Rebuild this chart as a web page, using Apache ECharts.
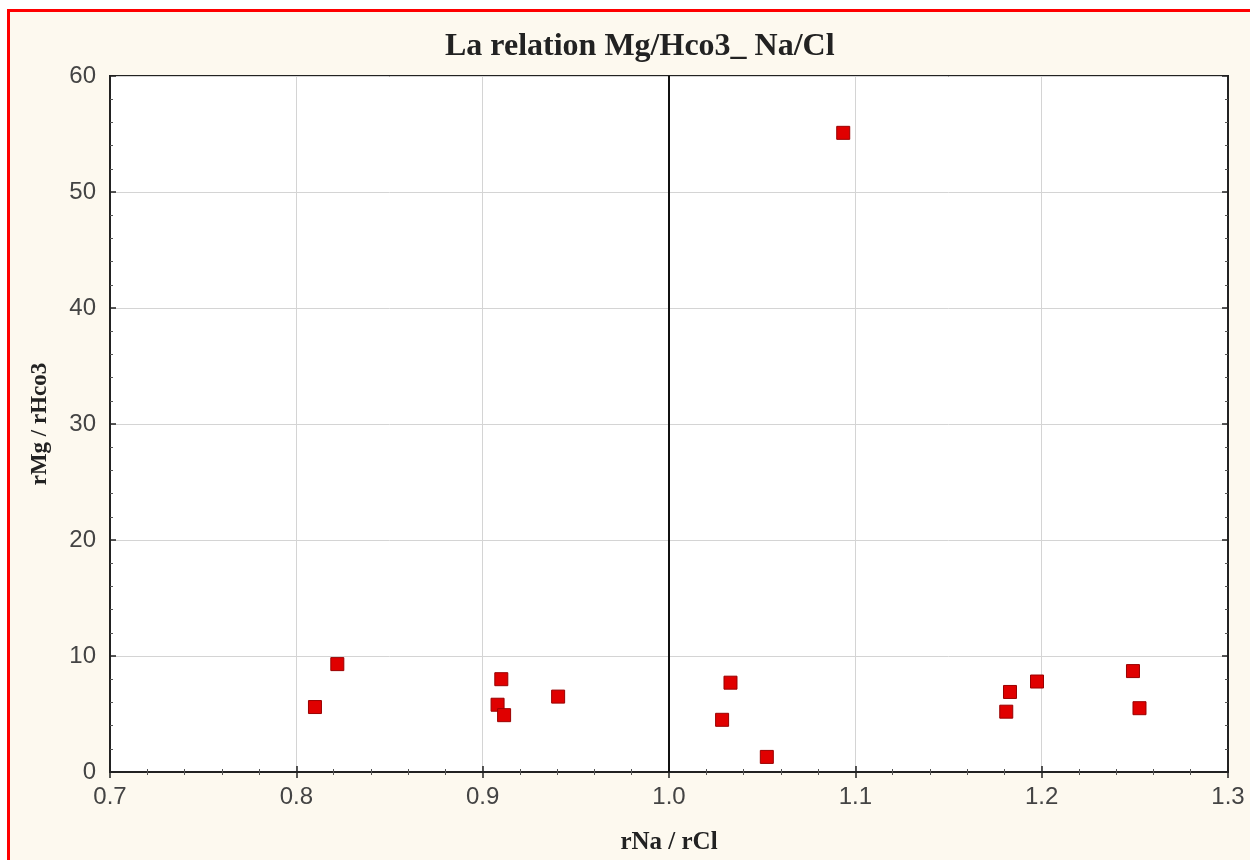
<!DOCTYPE html>
<html>
<head>
<meta charset="utf-8">
<script src="https://cdn.jsdelivr.net/npm/echarts@6/dist/echarts.min.js"></script>
<style>
  html, body { margin: 0; padding: 0; background: #ffffff; }
  #frame {
    position: absolute; left: 7px; top: 9px; width: 1243px; height: 851px;
    border-left: 3px solid #ff0000; border-top: 3px solid #ff0000;
    background: #fdf9ef; box-sizing: border-box;
  }
  #chart { position: absolute; left: 0; top: 0; width: 1250px; height: 860px; }
</style>
</head>
<body>
<div id="frame"></div>
<div id="chart"></div>
<script>
// rNa/rCl ratio (x) and rMg/rHCO3 ratio (y) for each sample
const naCl  = [0.810, 0.822, 0.910, 0.908, 0.9115, 0.9405, 1.0285, 1.033, 1.0525, 1.0935, 1.181, 1.183, 1.1975, 1.249, 1.2525];
const mgHco3 = [5.6, 9.3, 8.0, 5.8, 4.9, 6.5, 4.5, 7.7, 1.3, 55.1, 5.2, 6.9, 7.8, 8.7, 5.5];

const xTicks = { min: 0.7, max: 1.3, interval: 0.1 };
const yTicks = { min: 0, max: 60, interval: 10 };
const neutralRatio = 1.0;

const points = naCl.map((x, i) => [x, mgHco3[i]]);

const serif = '"Liberation Serif", "DejaVu Serif", serif';
const sans = '"Liberation Sans", Arial, sans-serif';

const tickStyle = {
  axisLine: { show: true, lineStyle: { color: '#222', width: 2 } },
  axisTick: { show: true, inside: true, length: 6, lineStyle: { color: '#222', width: 1.5 } },
  minorTick: { show: true, splitNumber: 5, length: 3, lineStyle: { color: '#555', width: 1 } }
};

const chart = echarts.init(document.getElementById('chart'), null, { renderer: 'canvas' });
chart.setOption({
  backgroundColor: 'transparent',
  animation: false,
  title: {
    text: 'La relation Mg/Hco3_ Na/Cl',
    left: 440,
    top: 26,
    textStyle: { fontFamily: serif, fontWeight: 'bold', fontSize: 32, color: '#222' }
  },
  grid: {
    left: 110, right: 22, top: 76, bottom: 85,
    show: true, backgroundColor: '#ffffff', borderColor: '#222', borderWidth: 2
  },
  xAxis: [{
    type: 'value', min: xTicks.min, max: xTicks.max, interval: xTicks.interval,
    name: 'rNa / rCl', nameLocation: 'middle', nameGap: 58,
    nameTextStyle: { fontFamily: serif, fontWeight: 'bold', fontSize: 25, color: '#222' },
    axisLabel: { fontFamily: sans, fontSize: 24, color: '#444', margin: 13,
      formatter: v => v.toFixed(1) },
    splitLine: { show: true, lineStyle: { color: '#d4d4d4', width: 1 } },
    ...tickStyle
  }, {
    type: 'value', position: 'top', min: xTicks.min, max: xTicks.max, interval: xTicks.interval,
    axisLabel: { show: false }, splitLine: { show: false },
    ...tickStyle
  }],
  yAxis: [{
    type: 'value', min: yTicks.min, max: yTicks.max, interval: yTicks.interval,
    name: 'rMg / rHco3', nameLocation: 'middle', nameGap: 58, nameRotate: 90,
    nameTextStyle: { fontFamily: serif, fontWeight: 'bold', fontSize: 23, color: '#222' },
    axisLabel: { fontFamily: sans, fontSize: 24, color: '#444', margin: 14 },
    splitLine: { show: true, lineStyle: { color: '#d4d4d4', width: 1 } },
    ...tickStyle
  }, {
    type: 'value', position: 'right', min: yTicks.min, max: yTicks.max, interval: yTicks.interval,
    axisLabel: { show: false }, splitLine: { show: false },
    ...tickStyle
  }],
  series: [{
    type: 'scatter',
    data: points,
    symbol: 'rect',
    symbolSize: 13,
    itemStyle: { color: '#e00000', borderColor: '#990000', borderWidth: 1, opacity: 1 },
    z: 5,
    markLine: {
      silent: true,
      symbol: ['none', 'none'],
      label: { show: false },
      lineStyle: { color: '#111', width: 2, type: 'solid' },
      data: [{ xAxis: neutralRatio }]
    }
  }]
});
</script>
</body>
</html>
